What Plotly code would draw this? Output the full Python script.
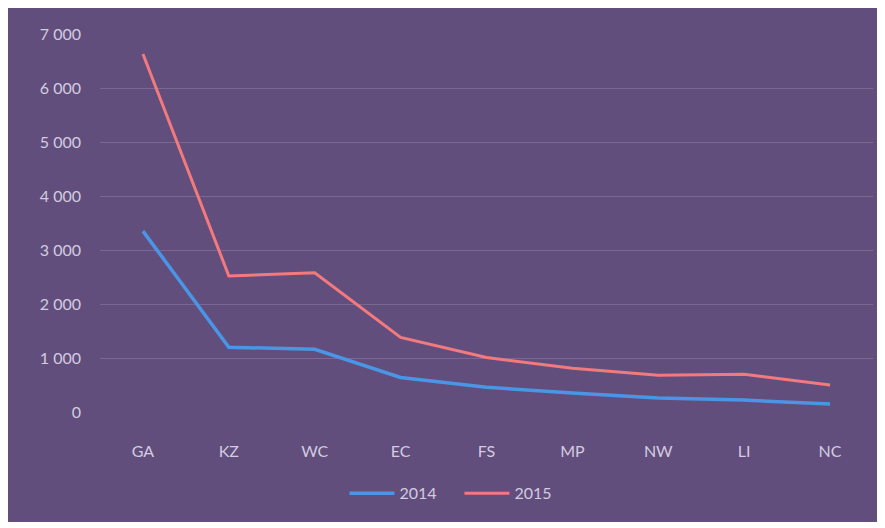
import plotly.graph_objects as go

categories = ["GA", "KZ", "WC", "EC", "FS", "MP", "NW", "LI", "NC"]
values_2014 = [3350, 1200, 1160, 640, 460, 350, 260, 220, 150]
values_2015 = [6630, 2520, 2580, 1380, 1010, 810, 680, 700, 500]
y_tickvals = [0, 1000, 2000, 3000, 4000, 5000, 6000, 7000]
y_ticktext = ["0", "1 000", "2 000", "3 000", "4 000", "5 000", "6 000", "7 000"]

BG = "#624e7c"
TXT = "#d2cce0"
FONT = "Lato"

fig = go.Figure()
fig.add_trace(go.Scatter(x=categories, y=values_2014, mode="lines", name="2014",
                         line=dict(color="#4a95e6", width=3.5)))
fig.add_trace(go.Scatter(x=categories, y=values_2015, mode="lines", name="2015",
                         line=dict(color="#f27a7e", width=3)))

fig.update_layout(
    width=885, height=528,
    paper_bgcolor=BG, plot_bgcolor=BG,
    margin=dict(l=92, r=20, t=26, b=124),
    font=dict(family=FONT, size=16, color=TXT),
    showlegend=True,
    legend=dict(orientation="h", x=0.465, xanchor="center", y=-0.215, yanchor="middle",
                bgcolor="rgba(0,0,0,0)", font=dict(size=16, color=TXT),
                itemwidth=45, entrywidth=55, entrywidthmode="pixels",
                traceorder="normal"),
    xaxis=dict(type="category", range=[-0.5, 8.5], showgrid=False, showline=False,
               zeroline=False, ticks="", ticklabelstandoff=28,
               tickfont=dict(size=16, color=TXT)),
    yaxis=dict(range=[0, 7000], tickvals=y_tickvals, ticktext=y_ticktext,
               showgrid=True, gridcolor="#7a6792", gridwidth=1, zeroline=False,
               showline=False, ticks="", ticklabelstandoff=18,
               tickfont=dict(size=16, color=TXT)),
    shapes=[
        dict(type="rect", xref="paper", yref="paper", x0=-0.2, x1=1.1, y0=-0.5, y1=-110/378,
             fillcolor="white", line=dict(width=0), layer="below"),
    ],
)

fig.write_html("out.html")
